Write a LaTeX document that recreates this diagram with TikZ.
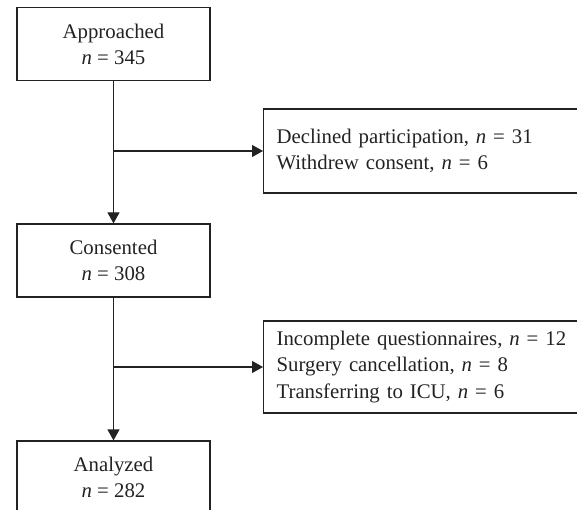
\documentclass[tikz,border=0pt]{standalone}
\usepackage{fontspec}
\setmainfont{Liberation Serif}
\usetikzlibrary{arrows.meta}
\definecolor{ink}{HTML}{222222}
\tikzset{
  leftbox/.style={draw=ink, line width=1.2pt, rectangle, minimum width=193pt, minimum height=73pt, align=center, inner sep=0pt, text=ink,
    font=\fontsize{20.8}{26}\selectfont},
  rightbox/.style={draw=ink, line width=1.2pt, rectangle, anchor=west, text width=374pt, inner xsep=13pt, inner ysep=0pt, minimum height=84pt, align=left, text=ink,
    font=\fontsize{20.8}{26.5}\selectfont},
  arr/.style={draw=ink, line width=1.2pt, -{Triangle[length=11pt,width=12pt]}},
}
\newcommand{\nn}{\textit{n}}
\begin{document}
\begin{tikzpicture}[x=1pt,y=-1pt]
\useasboundingbox (0,0) rectangle (577,510);
\clip (0,0) rectangle (577,510);
\node[leftbox] (app) at (113.5,44) {Approached\\\nn{} = 345};
\node[leftbox] (con) at (113.5,260.5) {Consented\\\nn{} = 308};
\node[leftbox] (ana) at (113.5,477.5) {Analyzed\\\nn{} = 282};
\node[rightbox] (dec) at (263,151) {Declined participation, \nn{} = 31\\Withdrew consent, \nn{} = 6};
\node[rightbox, minimum height=92pt] (exc) at (263,367) {Incomplete questionnaires, \nn{} = 12\\Surgery cancellation, \nn{} = 8\\Transferring to ICU, \nn{} = 6};
\coordinate (b1) at (app.south |- dec.west);
\coordinate (b2) at (con.south |- exc.west);
\draw[arr] (app.south) -- (con.north);
\draw[arr] (b1) -- (dec.west);
\draw[arr] (con.south) -- (ana.north);
\draw[arr] (b2) -- (exc.west);
\end{tikzpicture}
\end{document}
